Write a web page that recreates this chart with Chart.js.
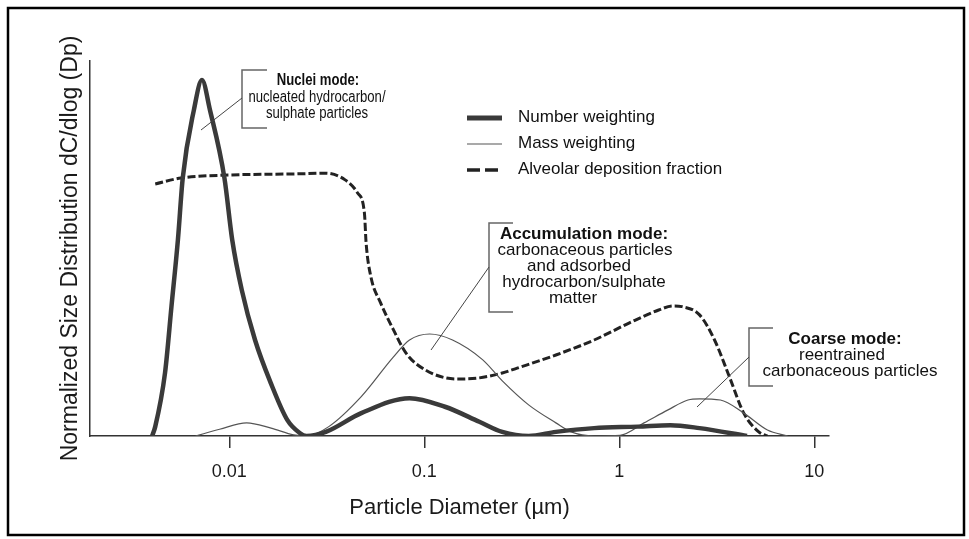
<!DOCTYPE html>
<html>
<head>
<meta charset="utf-8">
<script src="https://cdn.jsdelivr.net/npm/chart.js@4.4.1/dist/chart.umd.min.js"></script>
<style>
  html, body { margin: 0; padding: 0; background: #fff; }
  canvas { display: block; }
</style>
</head>
<body>
<canvas id="sizeChart" width="969" height="539"></canvas>
<script>
// ── Data: particle diameter (µm) and normalized height (0-100) ──
const xTicks = [0.01, 0.1, 1, 10];

const numberDiameter = [0.00402, 0.00417, 0.00468, 0.00505, 0.00545, 0.00577, 0.00658, 0.00724, 0.00796, 0.00944,
  0.01035, 0.01159, 0.01355, 0.01633, 0.01982, 0.02297, 0.02489, 0.03126, 0.0475, 0.084,
  0.1276, 0.1915, 0.2512, 0.3428, 0.473, 0.743, 1.245, 1.83, 2.58, 4.52];
const numberValue = [0, 2.5, 16.8, 34.5, 52.3, 68.8, 86.9, 94.9, 86.9, 68.8,
  52.3, 38.9, 25.6, 14.1, 4.3, 0.8, 0, 1.1, 6.1, 10.1,
  7.8, 3.8, 1.1, 0, 1.1, 2.1, 2.5, 2.9, 2.1, 0];

const massDiameter = [0.00671, 0.00892, 0.01227, 0.01638, 0.02138, 0.02489, 0.03236, 0.0475, 0.0695, 0.084,
  0.1066, 0.1396, 0.1995, 0.2512, 0.3428, 0.473, 0.566, 0.743, 1.01, 1.339,
  1.768, 2.25, 2.58, 3.30, 4.35, 5.75, 7.31];
const massValue = [0, 1.8, 3.5, 2.1, 0.3, 0, 2.5, 10.5, 21.1, 25.6,
  27.2, 25.6, 20.3, 14.7, 8.3, 3.5, 1.1, 0, 0.2, 3.5,
  6.9, 9.6, 9.9, 9.6, 6.1, 1.6, 0];

const alveolarDiameter = [0.00417, 0.00566, 0.01, 0.02223, 0.03126, 0.03926, 0.0455, 0.0493, 0.0503, 0.0532,
  0.0597, 0.0695, 0.0806, 0.1014, 0.1463, 0.1915, 0.2512, 0.2993, 0.473, 0.743,
  1.121, 1.593, 1.888, 2.096, 2.58, 3.08, 3.67, 4.35, 5.19, 5.75];
const alveolarValue = [67.2, 68.8, 69.6, 69.9, 70.1, 68.3, 64.8, 59.5, 51.5, 42.5,
  35.5, 28.3, 22.1, 17.6, 15.2, 15.5, 16.8, 18.1, 21.6, 25.6,
  30.1, 33.6, 34.7, 34.5, 32.3, 25.6, 15.8, 6.1, 1.1, 0];

const seriesLabels = ['Number weighting', 'Mass weighting', 'Alveolar deposition fraction'];

const toPoints = (xs, ys) => xs.map((x, i) => ({ x: x, y: ys[i] }));

// ── Annotation layout ──
const FONT = '"Liberation Sans", Arial, sans-serif';
const annotations = [
  {
    lines: ['Nuclei mode:', 'nucleated hydrocarbon/', 'sulphate particles'],
    cx: [318, 317, 317], cy: [81, 97.5, 113.5], size: 16, squeeze: 0.82,
    bracket: { x: 242, top: 70, bottom: 128, end: 267 },
    leader: [242, 98, 201, 130]
  },
  {
    lines: ['Accumulation mode:', 'carbonaceous particles', 'and adsorbed', 'hydrocarbon/sulphate', 'matter'],
    cx: [584, 585, 579, 584, 573], cy: [234, 250, 266, 282, 298], size: 17, squeeze: 1,
    bracket: { x: 489, top: 223, bottom: 312, end: 513 },
    leader: [489, 267, 431, 350]
  },
  {
    lines: ['Coarse mode:', 'reentrained', 'carbonaceous particles'],
    cx: [845, 842, 850], cy: [339, 355, 371], size: 17, squeeze: 1,
    bracket: { x: 749, top: 328, bottom: 386, end: 773 },
    leader: [749, 357, 697, 407]
  }
];

const legendSamples = [
  { width: 5, dash: [] },
  { width: 1.2, dash: [] },
  { width: 3.5, dash: [13, 5] }
];

const decorPlugin = {
  id: 'decor',
  afterDraw(chart) {
    const ctx = chart.ctx;
    ctx.save();

    // ── Legend ──
    chart.data.datasets.forEach((ds, i) => {
      const y = 117 + i * 26;
      ctx.strokeStyle = ds.borderColor;
      ctx.lineWidth = legendSamples[i].width;
      ctx.setLineDash(legendSamples[i].dash);
      ctx.beginPath();
      ctx.moveTo(467, y + 1);
      ctx.lineTo(502, y + 1);
      ctx.stroke();
      ctx.setLineDash([]);
      ctx.fillStyle = '#111';
      ctx.font = '17px ' + FONT;
      ctx.textAlign = 'left';
      ctx.textBaseline = 'middle';
      ctx.fillText(ds.label, 518, y);
    });

    // ── Mode annotations ──
    annotations.forEach(a => {
      ctx.strokeStyle = '#666';
      ctx.lineWidth = 1.5;
      ctx.beginPath();
      ctx.moveTo(a.bracket.end, a.bracket.top);
      ctx.lineTo(a.bracket.x, a.bracket.top);
      ctx.lineTo(a.bracket.x, a.bracket.bottom);
      ctx.lineTo(a.bracket.end, a.bracket.bottom);
      ctx.stroke();

      ctx.strokeStyle = '#444';
      ctx.lineWidth = 1;
      ctx.beginPath();
      ctx.moveTo(a.leader[0], a.leader[1]);
      ctx.lineTo(a.leader[2], a.leader[3]);
      ctx.stroke();

      ctx.fillStyle = '#111';
      ctx.textAlign = 'center';
      ctx.textBaseline = 'middle';
      a.lines.forEach((txt, i) => {
        ctx.font = (i === 0 ? 'bold ' : '') + a.size + 'px ' + FONT;
        ctx.save();
        ctx.translate(a.cx[i], a.cy[i]);
        ctx.scale(a.squeeze, 1);
        ctx.fillText(txt, 0, 0);
        ctx.restore();
      });
    });

    // ── Frame ──
    ctx.strokeStyle = '#000';
    ctx.lineWidth = 2.5;
    ctx.strokeRect(8, 8, 956, 527);
    ctx.restore();
  }
};

Chart.defaults.font.family = FONT;
Chart.defaults.color = '#1a1a1a';

new Chart(document.getElementById('sizeChart'), {
  type: 'line',
  data: {
    datasets: [
      {
        label: seriesLabels[0],
        data: toPoints(numberDiameter, numberValue),
        borderColor: '#3a3a3a',
        borderWidth: 4.5,
        cubicInterpolationMode: 'monotone',
        pointRadius: 0,
        fill: false
      },
      {
        label: seriesLabels[1],
        data: toPoints(massDiameter, massValue),
        borderColor: '#555',
        borderWidth: 1.2,
        cubicInterpolationMode: 'monotone',
        pointRadius: 0,
        fill: false
      },
      {
        label: seriesLabels[2],
        data: toPoints(alveolarDiameter, alveolarValue),
        borderColor: '#222',
        borderWidth: 3,
        borderDash: [8, 3],
        cubicInterpolationMode: 'monotone',
        pointRadius: 0,
        fill: false
      }
    ]
  },
  options: {
    responsive: false,
    animation: false,
    layout: { padding: { left: 57, right: 140, top: 61, bottom: 18 } },
    plugins: {
      legend: { display: false },
      tooltip: { enabled: false }
    },
    scales: {
      x: {
        type: 'logarithmic',
        min: 0.00193,
        max: 11.9,
        afterBuildTicks: scale => { scale.ticks = xTicks.map(v => ({ value: v })); },
        afterFit: scale => { scale.height = 85; },
        ticks: {
          callback: value => String(value),
          font: { size: 18 },
          color: '#1a1a1a',
          padding: 13,
          maxRotation: 0,
          autoSkip: false
        },
        grid: { display: true, drawOnChartArea: false, drawTicks: true, tickLength: 12, color: '#333', lineWidth: 1.5 },
        border: { display: true, color: '#333', width: 1.5 },
        title: { display: true, text: 'Particle Diameter (µm)', font: { size: 22 }, color: '#1a1a1a', padding: 0 }
      },
      y: {
        min: 0,
        max: 100,
        afterFit: scale => { scale.width = 33; },
        ticks: { display: false },
        grid: { display: false },
        border: { display: true, color: '#333', width: 1.5 },
        title: { display: true, text: 'Normalized Size Distribution dC/dlog (Dp)', font: { size: 23 }, color: '#1a1a1a', padding: 0 }
      }
    }
  },
  plugins: [decorPlugin]
});
</script>
</body>
</html>
